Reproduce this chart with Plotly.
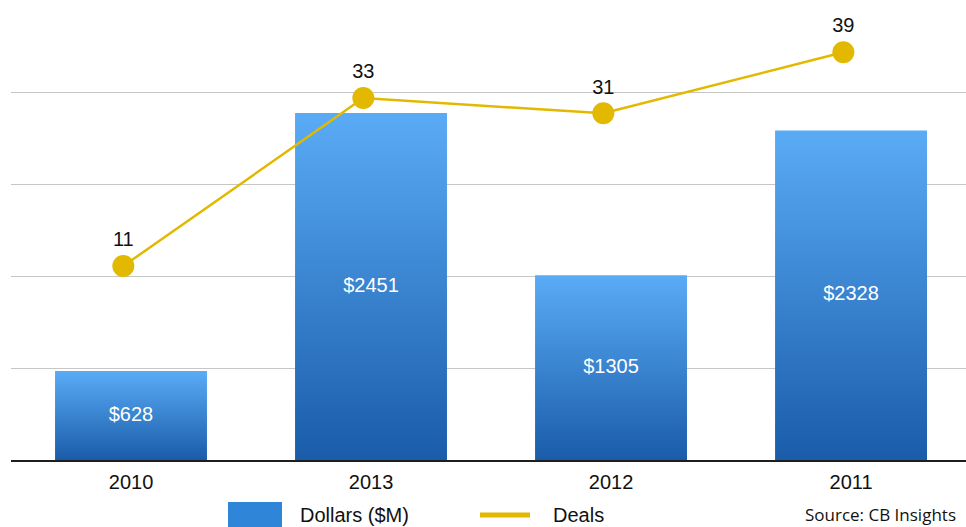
import plotly.graph_objects as go

# Data
years = ["2010", "2013", "2012", "2011"]
dollars = [628, 2451, 1305, 2328]
deals = [11, 33, 31, 39]
dollar_labels = ["$628", "$2451", "$1305", "$2328"]

BAR_W = 0.633
LINE_SHIFT = -0.032
BLUE_SCALE = [[0, "#1a5ca9"], [1, "#5aabf6"]]
GOLD = "#e2b900"
FONT = "Liberation Sans, Arial, Helvetica, sans-serif"

fig = go.Figure()

# Bars as filled polygons with a vertical gradient, one per year
for i, v in enumerate(dollars):
    x0, x1 = i - BAR_W / 2, i + BAR_W / 2
    fig.add_trace(go.Scatter(
        x=[x0, x1, x1, x0, x0], y=[0, 0, v, v, 0],
        mode="lines", fill="toself", line=dict(width=0),
        fillgradient=dict(type="vertical", colorscale=BLUE_SCALE, start=0, stop=v),
        hoverinfo="skip", showlegend=False,
    ))

# Dollar labels centred inside each bar
fig.add_trace(go.Scatter(
    x=list(range(len(years))), y=[v / 2 for v in dollars],
    mode="text", text=dollar_labels,
    textfont=dict(family=FONT, size=20, color="white"),
    hoverinfo="skip", showlegend=False,
))

# Deals line on a secondary axis
fig.add_trace(go.Scatter(
    x=[i + LINE_SHIFT for i in range(len(years))], y=deals,
    mode="lines+markers+text", text=[str(d) for d in deals],
    textposition="top center",
    textfont=dict(family=FONT, size=20, color="#111111"),
    line=dict(color=GOLD, width=2.5),
    marker=dict(color=GOLD, size=22),
    yaxis="y2", hoverinfo="skip", showlegend=False,
))

fig.update_layout(
    width=966, height=527,
    margin=dict(l=11, r=0, t=0, b=67),
    paper_bgcolor="white", plot_bgcolor="white",
    font=dict(family=FONT, size=20, color="#111111"),
    xaxis=dict(
        range=[-0.5, 3.479], tickvals=list(range(len(years))), ticktext=years,
        showgrid=False, zeroline=False, showline=True, linecolor="#1e1e1e",
        linewidth=2, ticks="", tickfont=dict(size=20, color="#111111"),
        ticklabelstandoff=3, fixedrange=True,
    ),
    yaxis=dict(
        range=[0, 3250], dtick=650, showgrid=True, gridcolor="#c6c6c6",
        gridwidth=1, zeroline=False, showticklabels=False, ticks="",
    ),
    yaxis2=dict(
        range=[-14.4, 45.84], overlaying="y", side="right",
        showgrid=False, zeroline=False, showticklabels=False, visible=False,
    ),
)

# Legend drawn below the plot area
def px(x):
    return (x - 11) / 955

def py(y):
    return (460 - y) / 460

fig.add_shape(type="rect", xref="paper", yref="paper",
              x0=px(228), x1=px(282), y0=py(527), y1=py(502),
              fillcolor="#2f86d9", line=dict(width=0))
fig.add_annotation(xref="paper", yref="paper", x=px(298), y=py(515),
                   text="Dollars ($M)", showarrow=False, xanchor="left",
                   yanchor="middle", font=dict(family=FONT, size=20, color="#111111"))
fig.add_shape(type="line", xref="paper", yref="paper",
              x0=px(480), x1=px(530), y0=py(515), y1=py(515),
              line=dict(color=GOLD, width=5))
fig.add_annotation(xref="paper", yref="paper", x=px(551), y=py(515),
                   text="Deals", showarrow=False, xanchor="left",
                   yanchor="middle", font=dict(family=FONT, size=20, color="#111111"))
fig.add_annotation(xref="paper", yref="paper", x=px(957), y=py(527),
                   text="Source: CB Insights", showarrow=False, xanchor="right",
                   yanchor="bottom", borderpad=0,
                   font=dict(family="Open Sans, sans-serif", size=17, color="#111111"))

fig.write_html("out.html")
